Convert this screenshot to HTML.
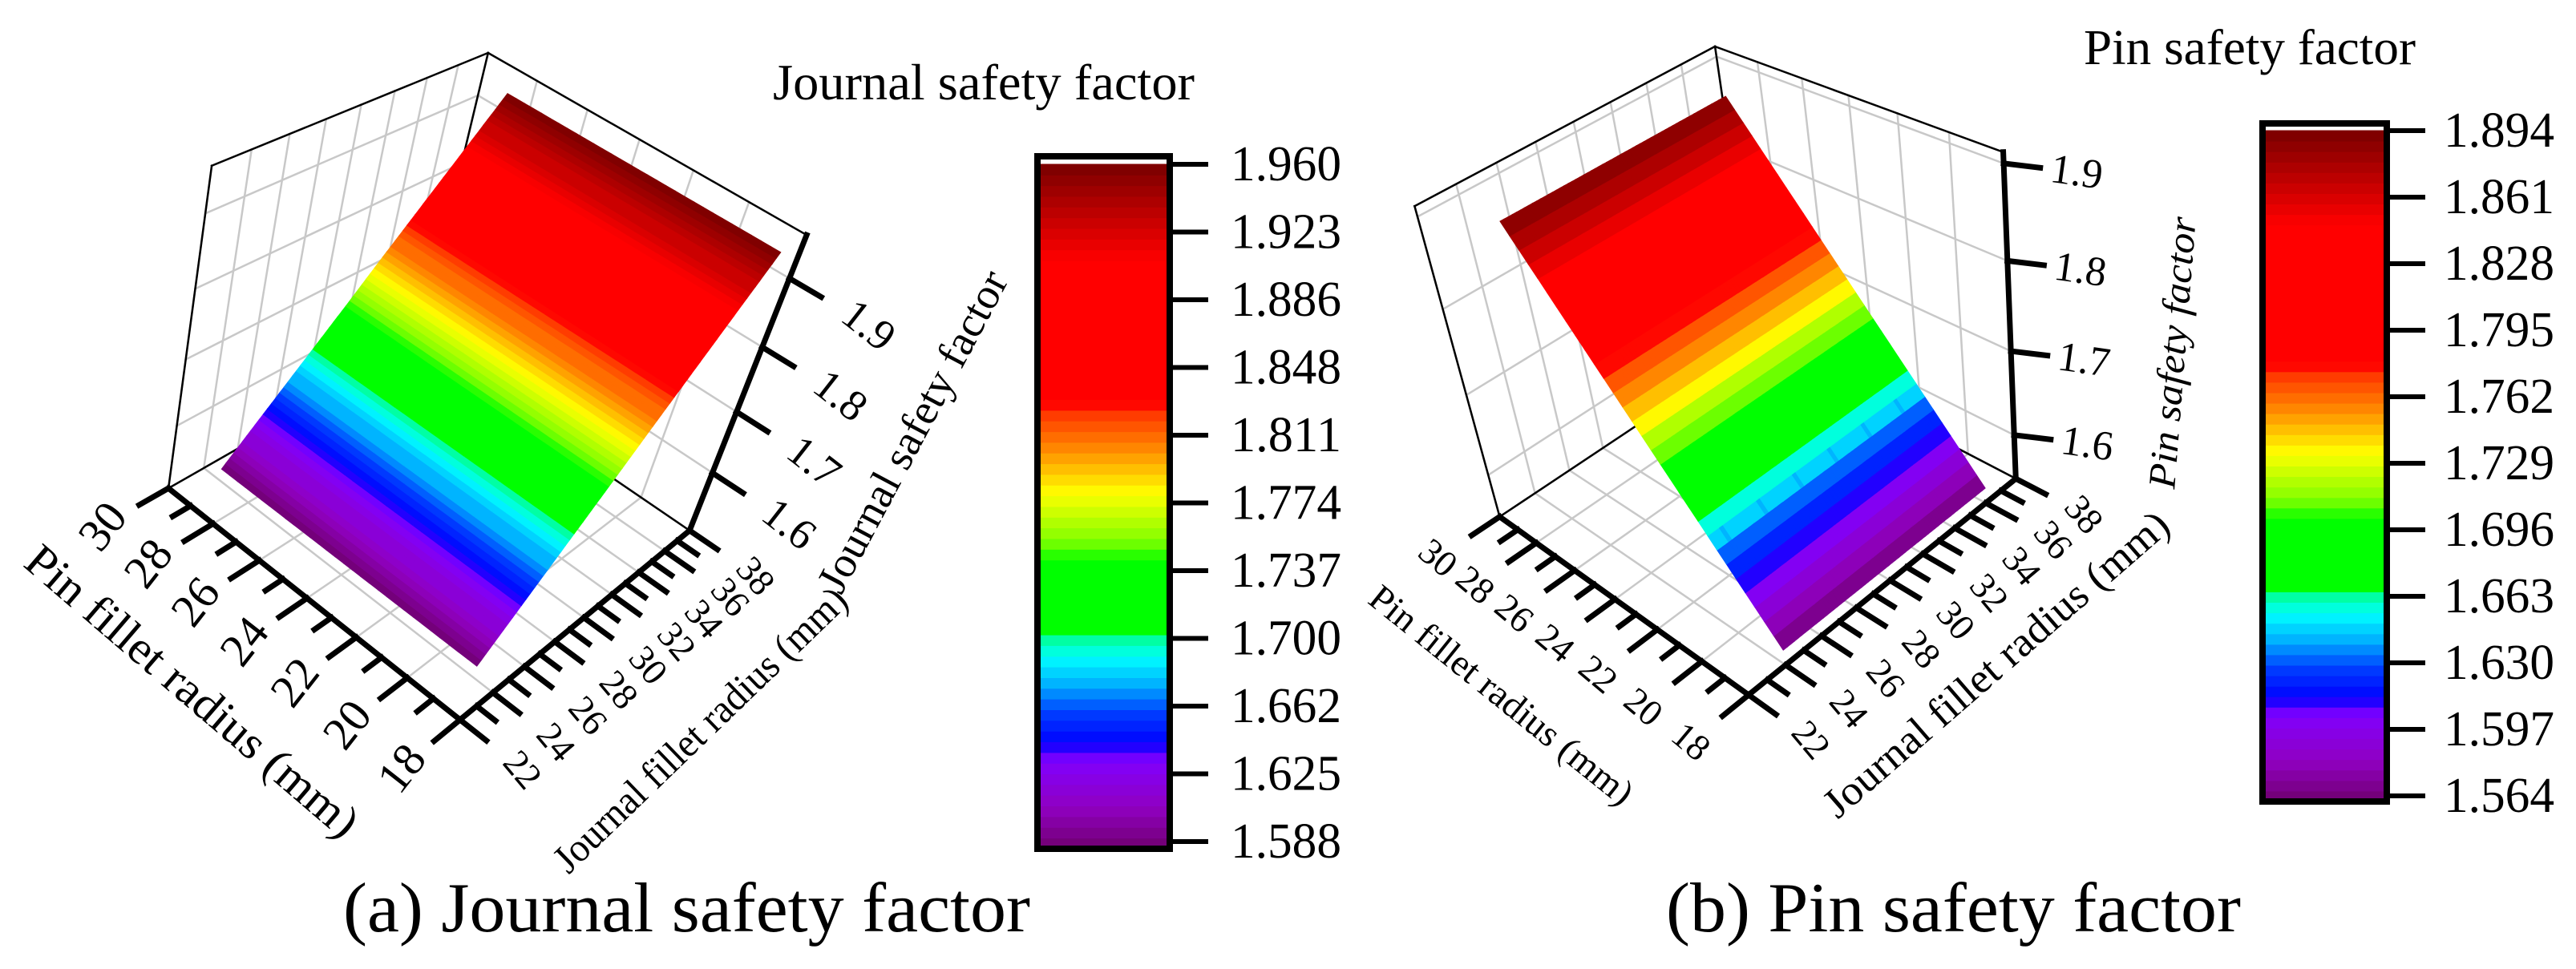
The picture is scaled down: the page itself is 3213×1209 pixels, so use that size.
<!DOCTYPE html>
<html><head><meta charset="utf-8">
<style>
html,body{margin:0;padding:0;background:#fff;}
svg{display:block;font-family:"Liberation Serif",serif;}
</style></head>
<body>
<svg id="fig" width="3213" height="1209" viewBox="0 0 3213 1209" xmlns="http://www.w3.org/2000/svg">
  <rect x="0" y="0" width="3213" height="1209" fill="#fff"/>
  <g id="panelA"></g>
  <g id="panelB"></g>
  <text x="964" y="124" font-size="64" textLength="526" lengthAdjust="spacingAndGlyphs">Journal safety factor</text>
  <text x="2599" y="80" font-size="62" textLength="414" lengthAdjust="spacingAndGlyphs">Pin safety factor</text>
  <text x="428" y="1162" font-size="88" textLength="857" lengthAdjust="spacingAndGlyphs">(a) Journal safety factor</text>
  <text x="2078" y="1162" font-size="88" textLength="717" lengthAdjust="spacingAndGlyphs">(b) Pin safety factor</text>
</svg>
<script>
// ---------- data ----------
const pinRadiusA = [18, 20, 22, 24, 26, 28];
const journalRadiusA = [22, 24, 26, 28, 30, 32, 34, 36];
const journalSFByJournal = [1.588, 1.641, 1.694, 1.747, 1.801, 1.854, 1.907, 1.960];
const pinRadiusB = [18, 20, 22, 24, 26, 28];
const journalRadiusB = [24, 26, 28, 30, 32, 34, 36];
const pinSFByPin = [1.564, 1.630, 1.696, 1.762, 1.828, 1.894];
const pinTicks = [18, 20, 22, 24, 26, 28, 30];
const journalTicks = [22, 24, 26, 28, 30, 32, 34, 36, 38];
const zTicks = [1.6, 1.7, 1.8, 1.9];
const colorbarLabelsA = ["1.960","1.923","1.886","1.848","1.811","1.774","1.737","1.700","1.662","1.625","1.588"];
const colorbarLabelsB = ["1.894","1.861","1.828","1.795","1.762","1.729","1.696","1.663","1.630","1.597","1.564"];

const NS = "http://www.w3.org/2000/svg";
function mk(parent, tag, attrs, name, inter) {
  const el = document.createElementNS(NS, tag);
  for (const k in attrs) el.setAttribute(k, attrs[k]);
  
  
  parent.appendChild(el);
  return el;
}

const stops = [
 [0.00,[0x70,0x00,0x70]],[0.06,[0x90,0x00,0xc0]],[0.13,[0x80,0x00,0xff]],[0.155,[0x00,0x00,0xff]],
 [0.20,[0x00,0x40,0xff]],[0.24,[0x00,0xb0,0xff]],[0.28,[0x00,0xff,0xff]],[0.31,[0x00,0xff,0x90]],
 [0.32,[0x00,0xff,0x00]],[0.42,[0x00,0xff,0x00]],[0.45,[0x80,0xff,0x00]],[0.52,[0xff,0xff,0x00]],
 [0.58,[0xff,0x90,0x00]],[0.64,[0xff,0x30,0x00]],[0.65,[0xff,0x00,0x00]],[0.86,[0xff,0x00,0x00]],
 [1.00,[0x78,0x00,0x00]]];
function cmap(f) {
  f = Math.max(0, Math.min(0.9999, f));
  f = (Math.floor(f * 64) + 0.5) / 64;
  for (let i = 0; i < stops.length - 1; i++) {
    const [a, ca] = stops[i], [b, cb] = stops[i + 1];
    if (f >= a && f <= b) {
      const t = (f - a) / (b - a);
      const c = ca.map((v, k) => Math.round(v + (cb[k] - v) * t));
      return `rgb(${c[0]},${c[1]},${c[2]})`;
    }
  }
  return "rgb(120,0,0)";
}

function solve(M) {
  const n = M.length;
  for (let c = 0; c < n; c++) {
    let piv = c;
    for (let r = c + 1; r < n; r++) if (Math.abs(M[r][c]) > Math.abs(M[piv][c])) piv = r;
    const tmp = M[c]; M[c] = M[piv]; M[piv] = tmp;
    for (let r = 0; r < n; r++) {
      if (r === c) continue;
      const f = M[r][c] / M[c][c];
      for (let k = c; k <= n; k++) M[r][k] -= f * M[c][k];
    }
  }
  return M.map((row, i) => row[n] / row[i]);
}

function makeProjector(cfg) {
  const C = cfg.corners;
  const pts = [[0,0,0,C.F00],[1,0,0,C.F10],[0,1,0,C.F01],[1,0,1,C.T10],[0,1,1,C.T01],[1,1,1,C.T11]];
  let cx = 0, cy = 0; pts.forEach(p => { cx += p[3][0]; cy += p[3][1]; });
  cx /= pts.length; cy /= pts.length; const s = 500;
  const rows = [], rhs = [];
  pts.forEach(([X, Y, Z, pt]) => {
    const x = (pt[0] - cx) / s, y = (pt[1] - cy) / s;
    rows.push([X, Y, Z, 1, 0, 0, 0, 0, -x * X, -x * Y, -x * Z]); rhs.push(x);
    rows.push([0, 0, 0, 0, X, Y, Z, 1, -y * X, -y * Y, -y * Z]); rhs.push(y);
  });
  const n = 11, M = [];
  for (let i = 0; i < n; i++) {
    const row = [];
    for (let j = 0; j < n; j++) { let sm = 0; rows.forEach(r => sm += r[i] * r[j]); row.push(sm); }
    let sb = 0; rows.forEach((r, k) => sb += r[i] * rhs[k]); row.push(sb);
    M.push(row);
  }
  const p = solve(M);
  return function (pin, jr, z) {
    const u = (pin - cfg.pinRange[0]) / (cfg.pinRange[1] - cfg.pinRange[0]);
    const v = (jr - cfg.jRange[0]) / (cfg.jRange[1] - cfg.jRange[0]);
    const w = (z - cfg.zRange[0]) / (cfg.zRange[1] - cfg.zRange[0]);
    const d = p[8] * u + p[9] * v + p[10] * w + 1;
    const x = (p[0] * u + p[1] * v + p[2] * w + p[3]) / d;
    const y = (p[4] * u + p[5] * v + p[6] * w + p[7]) / d;
    return [x * s + cx, y * s + cy];
  };
}

function unit(a, b) { const dx = b[0] - a[0], dy = b[1] - a[1], l = Math.hypot(dx, dy); return [dx / l, dy / l]; }

function drawPanel(g, cfg, pins, journals, values, cbLabels) {
  const P = makeProjector(cfg);
  const [p0, p1] = cfg.pinRange, [j0, j1] = cfg.jRange, [z0, z1] = cfg.zRange;
  const line = (a, b, w, col, name) => mk(g, 'line', {x1: a[0].toFixed(1), y1: a[1].toFixed(1), x2: b[0].toFixed(1), y2: b[1].toFixed(1), stroke: col, 'stroke-width': w, 'stroke-linecap': 'square'}, name, false);
  const grid = '#c8c8c8';
  pinTicks.forEach(p => line(P(p, j0, z0), P(p, j1, z0), 2.5, grid, 'floor-grid-pin'));
  journalTicks.forEach(j => line(P(p0, j, z0), P(p1, j, z0), 2.5, grid, 'floor-grid-journal'));
  journalTicks.forEach(j => line(P(p1, j, z0), P(p1, j, z1), 2.5, grid, 'left-wall-grid-vertical'));
  pinTicks.forEach(p => line(P(p, j1, z0), P(p, j1, z1), 2.5, grid, 'right-wall-grid-vertical'));
  zTicks.forEach(z => { line(P(p1, j0, z), P(p1, j1, z), 2.5, grid, 'left-wall-grid-horizontal'); line(P(p0, j1, z), P(p1, j1, z), 2.5, grid, 'right-wall-grid-horizontal'); });
  line(P(p1, j0, z0), P(p1, j0, z1), 2.5, '#000', 'box-edge-left');
  line(P(p1, j0, z1), P(p1, j1, z1), 2.5, '#000', 'box-edge-top-left');
  line(P(p1, j1, z1), P(p0, j1, z1), 2.5, '#000', 'box-edge-top-right');
  line(P(p1, j1, z0), P(p1, j1, z1), 2.5, '#000', 'box-edge-back');
  line(P(p1, j0, z0), P(p1, j1, z0), 2.5, '#000', 'box-floor-back-left');
  line(P(p1, j1, z0), P(p0, j1, z0), 2.5, '#000', 'box-floor-back-right');
  const cmin = parseFloat(cbLabels[cbLabels.length - 1]), cmax = parseFloat(cbLabels[0]);
  const sg = mk(g, 'g', {}, 'surface', false);
  const n = 6, m = 10;
  for (let i = 0; i < pins.length - 1; i++) for (let j = 0; j < journals.length - 1; j++) {
    const vA = values[i][j], vB = values[i + 1][j], vC = values[i][j + 1], vD = values[i + 1][j + 1];
    for (let a = 0; a < n; a++) for (let b = 0; b < m; b++) {
      const corners = [[a, b], [a + 1, b], [a + 1, b + 1], [a, b + 1]];
      let sum = 0;
      const pts = corners.map(([aa, bb]) => {
        const s = aa / n, t = bb / m;
        const val = vA * (1 - s) * (1 - t) + vB * s * (1 - t) + vC * (1 - s) * t + vD * s * t;
        sum += val;
        const pin = pins[i] + (pins[i + 1] - pins[i]) * s;
        const jr = journals[j] + (journals[j + 1] - journals[j]) * t;
        return P(pin, jr, val);
      });
      const col = cmap((sum / 4 - cmin) / (cmax - cmin));
      mk(sg, 'polygon', {points: pts.map(q => q[0].toFixed(1) + ',' + q[1].toFixed(1)).join(' '), fill: col, stroke: col, 'stroke-width': 1.5}, 'surface-patch', false);
    }
  }
  line(P(p0, j0, z0), P(p1, j0, z0), 7, '#000', 'pin-axis');
  line(P(p0, j0, z0), P(p0, j1, z0), 7, '#000', 'journal-axis');
  line(P(p0, j1, z0), P(p0, j1, z1), 7, '#000', 'z-axis');
  for (let p = p0; p <= p1; p++) {
    const a = P(p, j0, z0), d = unit(P(p, j0 + 1, z0), P(p, j0, z0));
    const L = (p % 2 === 0) ? 42 : 26;
    line(a, [a[0] + d[0] * L, a[1] + d[1] * L], 7, '#000', 'pin-tick');
  }
  pinTicks.forEach(p => {
    const a = P(p, j0, z0), d = unit(P(p, j0 + 1, z0), P(p, j0, z0));
    const x = a[0] + d[0] * cfg.pinLab.dist, y = a[1] + d[1] * cfg.pinLab.dist;
    const t = mk(g, 'text', {x: x.toFixed(1), y: y.toFixed(1), 'font-size': cfg.pinLab.size, 'text-anchor': 'middle', 'dominant-baseline': 'central', transform: `rotate(${cfg.pinLab.rot} ${x.toFixed(1)} ${y.toFixed(1)})`}, 'pin-tick-label', false);
    t.textContent = String(p);
  });
  for (let j = j0; j <= j1; j++) {
    const a = P(p0, j, z0), d = unit(P(p0 + 1, j, z0), P(p0, j, z0));
    const L = (j % 2 === 0) ? 42 : 30;
    line(a, [a[0] + d[0] * L, a[1] + d[1] * L], 7, '#000', 'journal-tick');
  }
  journalTicks.forEach(j => {
    const a = P(p0, j, z0), d = unit(P(p0 + 1, j, z0), P(p0, j, z0));
    const x = a[0] + d[0] * cfg.jLab.dist, y = a[1] + d[1] * cfg.jLab.dist;
    const t = mk(g, 'text', {x: x.toFixed(1), y: y.toFixed(1), 'font-size': cfg.jLab.size, 'text-anchor': 'middle', 'dominant-baseline': 'central', transform: `rotate(${cfg.jLab.rot} ${x.toFixed(1)} ${y.toFixed(1)})`}, 'journal-tick-label', false);
    t.textContent = String(j);
  });
  zTicks.forEach(z => {
    const a = P(p0, j1, z);
    const d = cfg.zDir ? cfg.zDir : unit(P(p0 + 1, j1, z), P(p0, j1, z));
    line(a, [a[0] + d[0] * 46, a[1] + d[1] * 46], 7, '#000', 'z-tick');
    const x = a[0] + d[0] * cfg.zLab.dist, y = a[1] + d[1] * cfg.zLab.dist;
    const t = mk(g, 'text', {x: x.toFixed(1), y: y.toFixed(1), 'font-size': cfg.zLab.size, 'text-anchor': 'middle', 'dominant-baseline': 'central', transform: `rotate(${cfg.zLab.rot} ${x.toFixed(1)} ${y.toFixed(1)})`}, 'z-tick-label', false);
    t.textContent = z.toFixed(1);
  });
  cfg.titles.forEach(tt => {
    const t = mk(g, 'text', {x: tt.x, y: tt.y, 'font-size': tt.size, 'text-anchor': 'middle', 'dominant-baseline': 'central', 'font-style': tt.italic ? 'italic' : 'normal', textLength: tt.len, lengthAdjust: 'spacingAndGlyphs', transform: `rotate(${tt.rot} ${tt.x} ${tt.y})`}, tt.name, false);
    t.textContent = tt.text;
  });
  const cb = cfg.cb;
  const cg = mk(g, 'g', {}, 'colorbar', false);
  const top = cb.tickTop, bot = cb.y1, N = 64;
  for (let k = 0; k < N; k++) {
    const yb = bot - (bot - top) * k / N, yt = bot - (bot - top) * (k + 1) / N;
    mk(cg, 'rect', {x: cb.x0, y: (yt - 0.5).toFixed(1), width: cb.x1 - cb.x0, height: (yb - yt + 1).toFixed(1), fill: cmap((k + 0.5) / N)}, 'colorbar-band', false);
  }
  mk(cg, 'rect', {x: cb.x0, y: cb.y0, width: cb.x1 - cb.x0, height: cb.y1 - cb.y0, fill: 'none', stroke: '#000', 'stroke-width': 8}, 'colorbar-frame', false);
  cbLabels.forEach((lab, k) => {
    const y = cb.tickTop + (cb.tickBot - cb.tickTop) * k / (cbLabels.length - 1);
    mk(cg, 'line', {x1: cb.x1, y1: y.toFixed(1), x2: cb.x1 + 48, y2: y.toFixed(1), stroke: '#000', 'stroke-width': 6}, 'colorbar-tick', false);
    const t = mk(cg, 'text', {x: cb.x1 + cb.labOff, y: y.toFixed(1), 'font-size': 62, textLength: 138, lengthAdjust: 'spacingAndGlyphs', 'dominant-baseline': 'central'}, 'colorbar-label', false);
    t.textContent = lab;
  });
}

const cfgA = {
  corners: {F00: [574, 898], F10: [210, 609], F01: [860, 662], T10: [264, 207], T01: [1006, 293], T11: [609, 66]},
  pinRange: [18, 30], jRange: [22, 38], zRange: [1.50, 1.96],
  pinLab: {dist: 95, rot: -52, size: 58},
  jLab: {dist: 100, rot: 50, size: 46},
  zLab: {dist: 115, rot: 38, size: 54},
  titles: [
    {text: 'Pin fillet radius (mm)', x: 240, y: 862, rot: 40.6, size: 58, len: 527, name: 'pin-axis-title'},
    {text: 'Journal fillet radius (mm)', x: 873, y: 910, rot: -44, size: 50, len: 488, name: 'journal-axis-title'},
    {text: 'Journal safety factor', x: 1138, y: 538, rot: -62, size: 54, len: 446, name: 'z-axis-title'}
  ],
  cb: {x0: 1294, x1: 1459, y0: 195, y1: 1059, tickTop: 205, tickBot: 1050, labOff: 76}
};
const cfgB = {
  corners: {F00: [2182, 867], F10: [1870, 644], F01: [2514, 598], T10: [1764, 258], T01: [2498, 189], T11: [2140, 58]},
  pinRange: [18, 30], jRange: [22, 38], zRange: [1.545, 1.911],
  pinLab: {dist: 92, rot: 40, size: 46},
  jLab: {dist: 96, rot: 50, size: 46},
  zLab: {dist: 92, rot: 8, size: 52},
  zDir: [0.99, 0.12],
  titles: [
    {text: 'Pin fillet radius (mm)', x: 1873, y: 867, rot: 38.8, size: 46, len: 408, name: 'pin-axis-title'},
    {text: 'Journal fillet radius (mm)', x: 2490, y: 829, rot: -41, size: 52, len: 553, name: 'journal-axis-title'},
    {text: 'Pin safety factor', x: 2710, y: 440, rot: -85.5, size: 48, len: 340, italic: true, name: 'z-axis-title'}
  ],
  cb: {x0: 2822, x1: 2977, y0: 154, y1: 1000, tickTop: 163, tickBot: 993, labOff: 71}
};

const valuesA = pinRadiusA.map(() => journalSFByJournal.slice());
const valuesB = pinSFByPin.map(v => journalRadiusB.map(() => v));
drawPanel(document.getElementById('panelA'), cfgA, pinRadiusA, journalRadiusA, valuesA, colorbarLabelsA);
drawPanel(document.getElementById('panelB'), cfgB, pinRadiusB, journalRadiusB, valuesB, colorbarLabelsB);
</script>
</body></html>
